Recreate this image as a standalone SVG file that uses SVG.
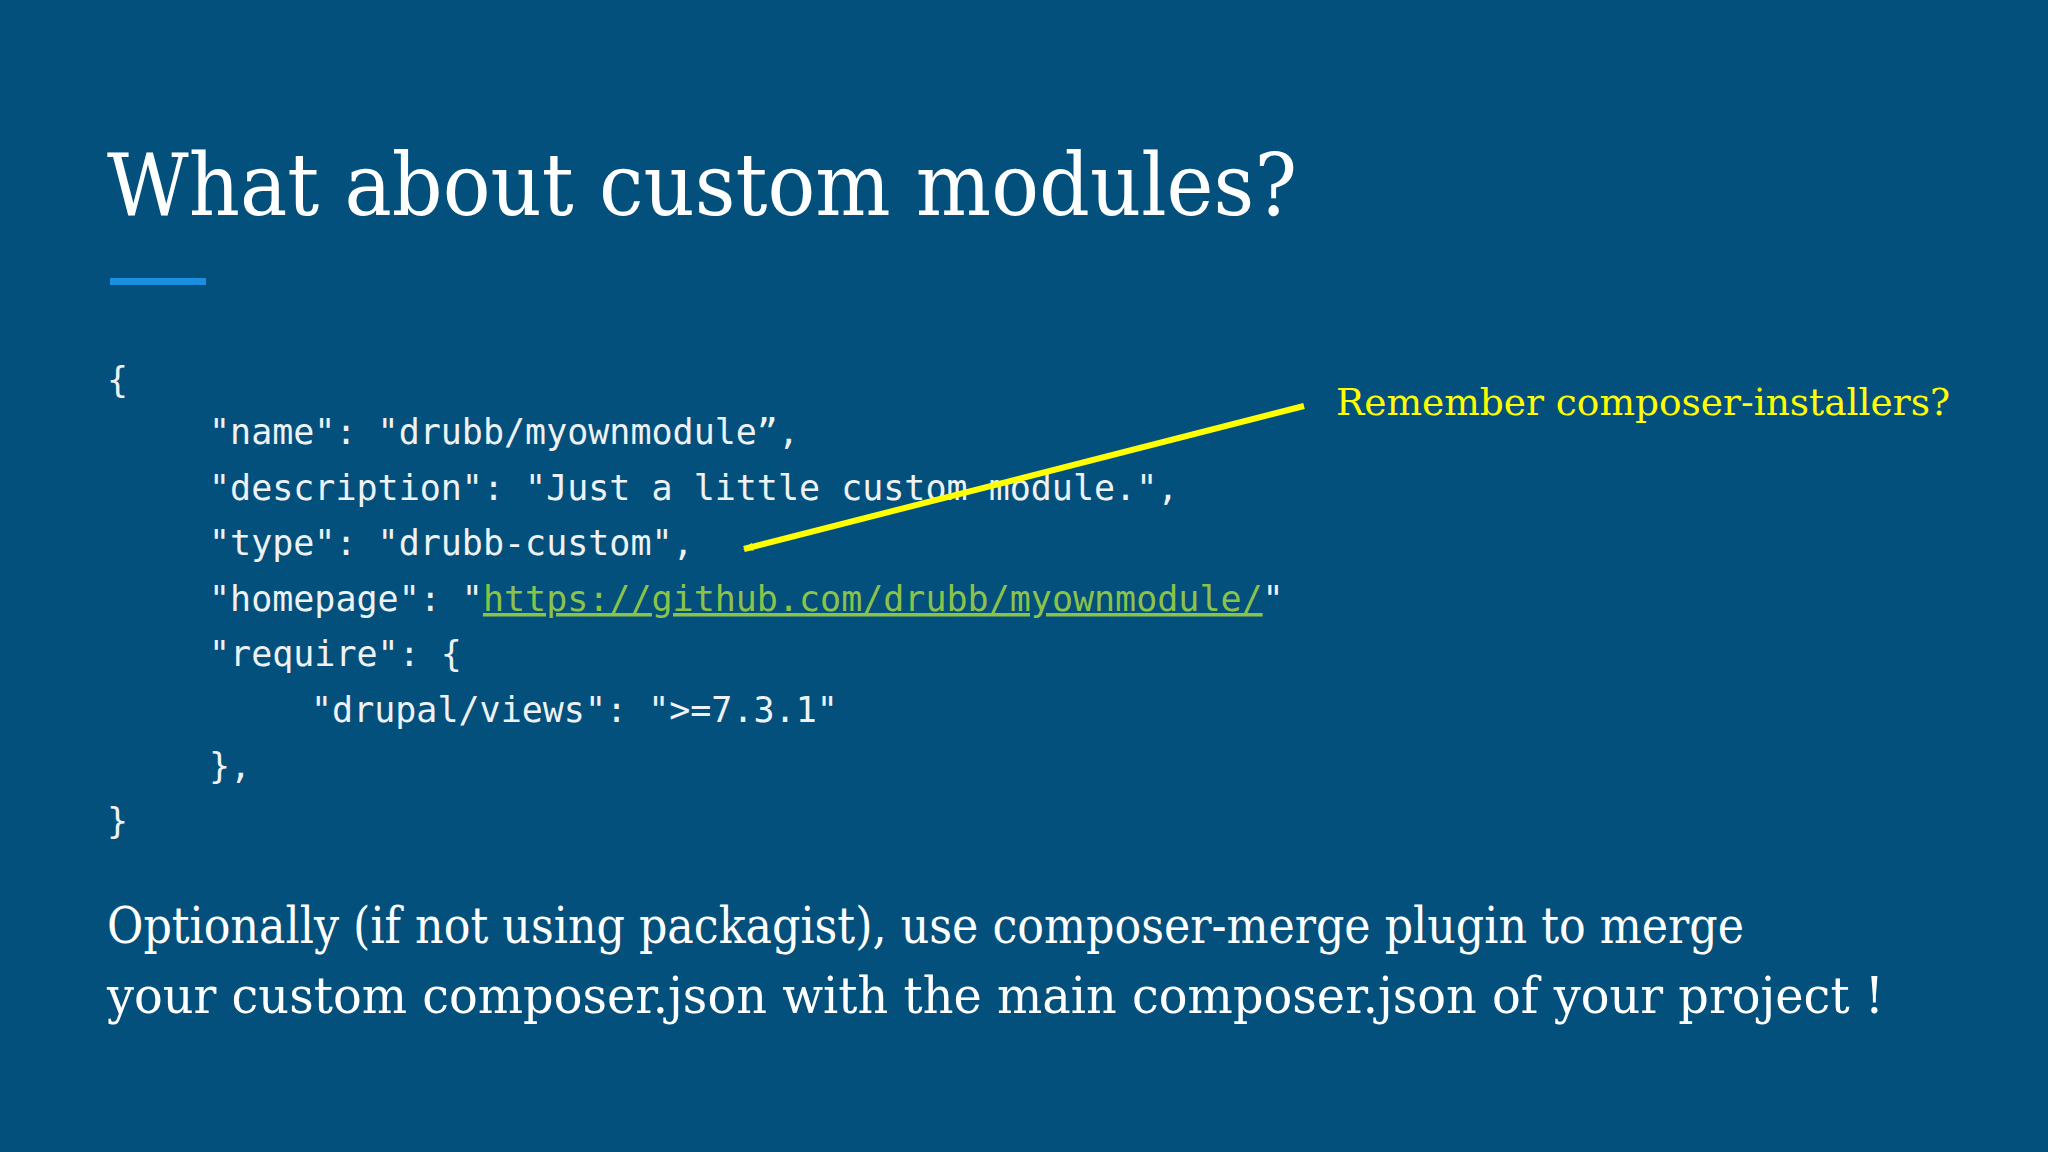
<svg xmlns="http://www.w3.org/2000/svg" width="2048" height="1152" viewBox="0 0 2048 1152">
<style>
.code{font-family:"DejaVu Sans Mono","Liberation Mono",monospace;font-size:35px;fill:#eef2f5}
.serif{font-family:"DejaVu Serif","Liberation Serif",serif;fill:#ffffff}
</style>
<defs><marker id="ah" markerWidth="10" markerHeight="8" refX="9" refY="4" orient="auto" markerUnits="userSpaceOnUse" viewBox="0 0 10 8"><path d="M0,0 L10,4 L0,8 z" fill="#ffff00"/></marker></defs>
<rect width="2048" height="1152" fill="#03507c"/>
<g id="title"><text class="serif" x="107" y="215" font-size="86" textLength="1190" lengthAdjust="spacingAndGlyphs">What about custom modules?</text>
<rect x="110" y="278" width="96" height="7" fill="#1a8fe0"/></g>
<g id="code">
<text class="code" x="107" y="392">{</text>
<text class="code" x="209" y="444">"name": "drubb/myownmodule”,</text>
<text class="code" x="209" y="500">"description": "Just a little custom module.",</text>
<text class="code" x="209" y="555">"type": "drubb-custom",</text>
<text class="code" x="209" y="611">"homepage": "<tspan fill="#8bc34a" text-decoration="underline">https://github.com/drubb/myownmodule/</tspan>"</text>
<text class="code" x="209" y="666">"require": {</text>
<text class="code" x="311" y="722">"drupal/views": "&gt;=7.3.1"</text>
<text class="code" x="209" y="778">},</text>
<text class="code" x="107" y="833">}</text>
</g>
<g id="connectors"><line x1="1304" y1="406" x2="744" y2="549" stroke="#ffff00" stroke-width="6" marker-end="url(#ah)"/></g>
<g id="note"><text class="serif" x="1336" y="415" font-size="38" fill="#ffff00" style="fill:#ffff00" textLength="614" lengthAdjust="spacingAndGlyphs">Remember composer-installers?</text></g>
<g id="footer">
<text class="serif" x="107" y="943" font-size="50" textLength="1637" lengthAdjust="spacingAndGlyphs">Optionally (if not using packagist), use composer-merge plugin to merge</text>
<text class="serif" x="107" y="1013" font-size="50" textLength="1777" lengthAdjust="spacingAndGlyphs">your custom composer.json with the main composer.json of your project !</text>
</g>
</svg>
